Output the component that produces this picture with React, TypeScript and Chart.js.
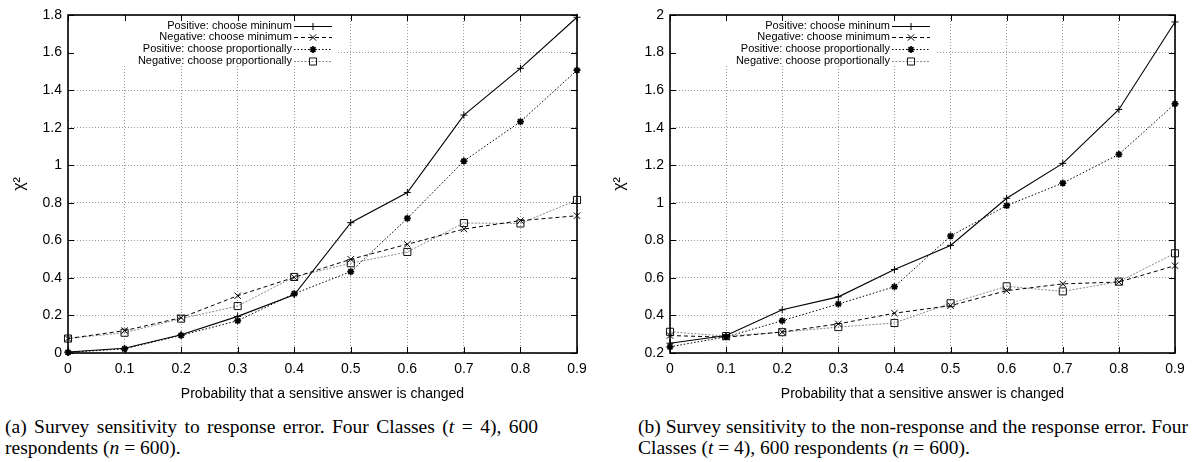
import React, { useEffect, useRef } from 'react';
import { Chart, registerables } from 'chart.js';

Chart.register(...registerables);

// ---------- data ----------
const probabilities = [0, 0.1, 0.2, 0.3, 0.4, 0.5, 0.6, 0.7, 0.8, 0.9];
const seriesLabels = [
  'Positive: choose mininum',
  'Negative: choose minimum',
  'Positive: choose proportionally',
  'Negative: choose proportionally',
];
const xAxisTitle = 'Probability that a sensitive answer is changed';
const yAxisTitle = 'χ²';

// (a) response error
const aPositiveMin = [0.005, 0.025, 0.097, 0.195, 0.31, 0.694, 0.855, 1.267, 1.516, 1.788];
const aNegativeMin = [0.077, 0.119, 0.188, 0.305, 0.403, 0.499, 0.579, 0.66, 0.705, 0.731];
const aPositiveProp = [0.003, 0.022, 0.094, 0.172, 0.316, 0.433, 0.717, 1.022, 1.232, 1.506];
const aNegativeProp = [0.077, 0.108, 0.183, 0.25, 0.405, 0.478, 0.538, 0.692, 0.69, 0.815];
const aYRange = [0, 1.8];

// (b) non-response and response error
const bPositiveMin = [0.252, 0.293, 0.43, 0.499, 0.645, 0.773, 1.024, 1.21, 1.497, 1.963];
const bNegativeMin = [0.293, 0.284, 0.312, 0.355, 0.412, 0.452, 0.532, 0.568, 0.578, 0.665];
const bPositiveProp = [0.233, 0.286, 0.372, 0.461, 0.553, 0.823, 0.985, 1.105, 1.258, 1.527];
const bNegativeProp = [0.313, 0.29, 0.311, 0.338, 0.36, 0.465, 0.555, 0.528, 0.58, 0.731];
const bYRange = [0.2, 2.0];

const tickStepX = 0.1;
const tickStepY = 0.2;

// ---------- styles ----------
const seriesStyles = [
  { color: '#000', pointColor: '#000', dash: [] as number[], point: 'cross', radius: 3.5, pw: 1, lw: 1.1 },
  { color: '#000', pointColor: '#000', dash: [4, 3], point: 'crossRot', radius: 4.5, pw: 1, lw: 1 },
  { color: '#000', pointColor: '#000', dash: [1.5, 2], point: 'star', radius: 3.5, pw: 1.7, lw: 1 },
  { color: '#888', pointColor: '#111', dash: [2, 1.5], point: 'rect', radius: 5, pw: 1, lw: 1 },
];

const FONT = "'Liberation Sans', Arial, sans-serif";

const fmt = (v: number | string) => String(Math.round(Number(v) * 100) / 100);

function drawMarker(ctx: CanvasRenderingContext2D, style: string, x: number, y: number, r: number) {
  ctx.beginPath();
  if (style === 'cross' || style === 'star') {
    ctx.moveTo(x - r, y);
    ctx.lineTo(x + r, y);
    ctx.moveTo(x, y - r);
    ctx.lineTo(x, y + r);
  }
  if (style === 'crossRot' || style === 'star') {
    const d = r * Math.SQRT1_2;
    ctx.moveTo(x - d, y - d);
    ctx.lineTo(x + d, y + d);
    ctx.moveTo(x - d, y + d);
    ctx.lineTo(x + d, y - d);
  }
  if (style === 'rect') {
    const s = r * Math.SQRT1_2;
    ctx.rect(x - s, y - s, 2 * s, 2 * s);
  }
  ctx.stroke();
}

const gnuFrame = {
  id: 'gnuFrame',
  beforeDatasetsDraw(chart: any, _args: any, opts: any) {
    const { ctx, chartArea: a } = chart;
    ctx.save();
    ctx.fillStyle = '#fff';
    ctx.fillRect(a.left + 1, a.top + 1, a.right - opts.clearFromRight - a.left - 1, opts.clearHeight);
    ctx.restore();
  },
  afterDraw(chart: any, _args: any, opts: any) {
    const { ctx, chartArea: a, scales } = chart;
    ctx.save();
    // inward ticks
    ctx.strokeStyle = '#000';
    ctx.lineWidth = 1;
    ctx.setLineDash([]);
    const tl = 6;
    ctx.beginPath();
    scales.x.ticks.forEach((t: any) => {
      const px = Math.round(scales.x.getPixelForValue(t.value)) + 0.5;
      ctx.moveTo(px, a.bottom);
      ctx.lineTo(px, a.bottom - tl);
      ctx.moveTo(px, a.top);
      ctx.lineTo(px, a.top + tl);
    });
    scales.y.ticks.forEach((t: any) => {
      const py = Math.round(scales.y.getPixelForValue(t.value)) + 0.5;
      ctx.moveTo(a.left, py);
      ctx.lineTo(a.left + tl, py);
      ctx.moveTo(a.right, py);
      ctx.lineTo(a.right - tl, py);
    });
    ctx.stroke();
    // border
    ctx.lineWidth = 1.6;
    ctx.strokeRect(a.left, a.top, a.right - a.left, a.bottom - a.top);
    // key
    ctx.font = `11px ${FONT}`;
    ctx.textAlign = 'right';
    ctx.textBaseline = 'middle';
    seriesLabels.forEach((label, i) => {
      const st = seriesStyles[i];
      const y = a.top + opts.keyTop + i * opts.keyStep;
      ctx.fillStyle = '#000';
      ctx.fillText(label, a.right - opts.keyTextRight, y);
      const x1 = a.right - opts.sampleStart;
      const x2 = a.right - opts.sampleEnd;
      ctx.strokeStyle = st.color;
      ctx.lineWidth = st.lw;
      ctx.setLineDash(st.dash);
      ctx.beginPath();
      ctx.moveTo(x1, Math.round(y) + 0.5);
      ctx.lineTo(x2, Math.round(y) + 0.5);
      ctx.stroke();
      ctx.setLineDash([]);
      ctx.strokeStyle = st.pointColor;
      ctx.lineWidth = st.pw;
      drawMarker(ctx, st.point, (x1 + x2) / 2, Math.round(y) + 0.5, st.radius);
    });
    ctx.restore();
  },
};

interface ChartProps {
  series: number[][];
  yRange: number[];
  yWidth: number;
  width: number;
}

function SurveyChart({ series, yRange, yWidth, width }: ChartProps) {
  const ref = useRef<HTMLCanvasElement>(null);
  useEffect(() => {
    const canvas = ref.current!;
    const chart = new Chart(canvas, {
      type: 'line',
      data: {
        datasets: series.map((vals, i) => {
          const st = seriesStyles[i];
          return {
            label: seriesLabels[i],
            data: probabilities.map((p, j) => ({ x: p, y: vals[j] })),
            borderColor: st.color,
            borderWidth: st.lw,
            borderDash: st.dash,
            pointStyle: st.point as any,
            pointRadius: st.radius,
            pointBorderWidth: st.pw,
            pointBorderColor: st.pointColor,
            pointBackgroundColor: 'rgba(0,0,0,0)',
            tension: 0,
            clip: false as any,
            fill: false,
          };
        }),
      },
      options: {
        responsive: false,
        animation: false,
        events: [],
        layout: { padding: { top: 15, right: 23, bottom: 0, left: 0 } },
        plugins: {
          legend: { display: false },
          tooltip: { enabled: false },
          gnuFrame: {
            clearFromRight: 239,
            clearHeight: 50,
            keyTop: 10.5,
            keyStep: 11.7,
            keyTextRight: 285,
            sampleStart: 283,
            sampleEnd: 245,
          },
        } as any,
        scales: {
          x: {
            type: 'linear',
            min: 0,
            max: 0.9,
            ticks: {
              stepSize: tickStepX,
              padding: 8,
              color: '#000',
              font: { size: 14, family: FONT },
              callback: fmt,
              maxRotation: 0,
              autoSkip: false,
            },
            grid: { color: '#9a9a9a', drawTicks: false, lineWidth: 1 },
            border: { display: false, dash: [1, 2] },
            title: {
              display: true,
              text: xAxisTitle,
              color: '#000',
              font: { size: 14, family: FONT },
              padding: { top: 0, bottom: 7 },
            },
            afterFit: (s: any) => {
              s.height = 57;
            },
          },
          y: {
            type: 'linear',
            min: yRange[0],
            max: yRange[1],
            ticks: {
              stepSize: tickStepY,
              padding: 6,
              color: '#000',
              font: { size: 14, family: FONT },
              callback: fmt,
            },
            grid: { color: '#9a9a9a', drawTicks: false, lineWidth: 1 },
            border: { display: false, dash: [1, 2] },
            title: {
              display: true,
              text: yAxisTitle,
              color: '#000',
              font: { size: 16, family: FONT },
              padding: { top: 10, bottom: 0 },
            },
            afterFit: (s: any) => {
              s.width = yWidth;
            },
          },
        },
      },
      plugins: [gnuFrame],
    });
    return () => chart.destroy();
  }, []);
  return <canvas ref={ref} width={width} height={410} style={{ width, height: 410, display: 'block' }} />;
}

const captionStyle: React.CSSProperties = {
  position: 'absolute',
  fontFamily: "'Liberation Serif', 'Times New Roman', serif",
  fontSize: 19.5,
  lineHeight: '21px',
  color: '#000',
  whiteSpace: 'nowrap',
};

const justified: React.CSSProperties = {
  textAlign: 'justify',
  textAlignLast: 'justify',
  whiteSpace: 'normal',
};

export default function App() {
  return (
    <div style={{ position: 'absolute', left: 0, top: 0, width: 1198, height: 462, background: '#fff', overflow: 'hidden' }}>
      <div style={{ position: 'absolute', left: 0, top: 0 }}>
        <SurveyChart series={[aPositiveMin, aNegativeMin, aPositiveProp, aNegativeProp]} yRange={aYRange} yWidth={68} width={600} />
      </div>
      <div style={{ position: 'absolute', left: 600, top: 0 }}>
        <SurveyChart series={[bPositiveMin, bNegativeMin, bPositiveProp, bNegativeProp]} yRange={bYRange} yWidth={70} width={598} />
      </div>
      <div style={{ ...captionStyle, ...justified, left: 5, top: 416, width: 533 }}>
        (a) Survey sensitivity to response error. Four Classes (<i>t</i> = 4), 600
      </div>
      <div style={{ ...captionStyle, left: 5, top: 437 }}>
        respondents (<i>n</i>&nbsp;=&nbsp;600).
      </div>
      <div style={{ ...captionStyle, ...justified, left: 638, top: 416, width: 550 }}>
        (b) Survey sensitivity to the non-response and the response error. Four
      </div>
      <div style={{ ...captionStyle, left: 638, top: 437 }}>
        Classes (<i>t</i>&nbsp;=&nbsp;4), 600 respondents (<i>n</i>&nbsp;=&nbsp;600).
      </div>
    </div>
  );
}
